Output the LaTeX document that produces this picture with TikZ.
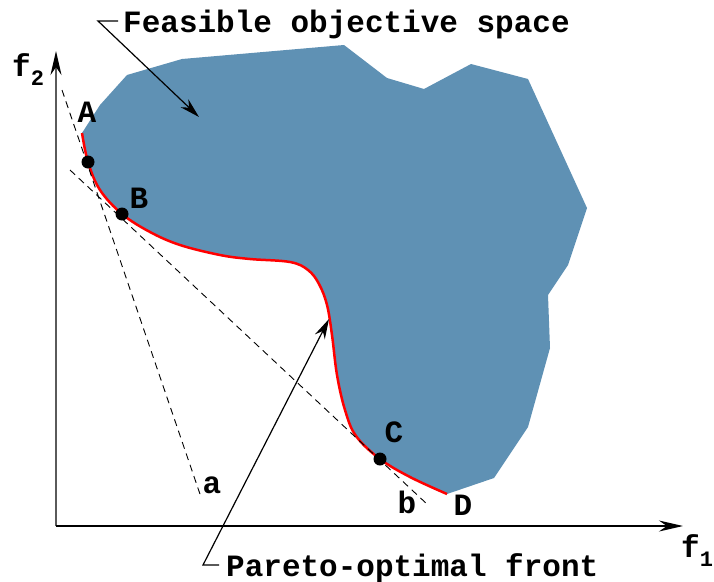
\documentclass[tikz,border=0pt]{standalone}
\usepackage{fontspec}
\setmonofont{Liberation Mono}
\usetikzlibrary{arrows.meta}
\definecolor{feas}{RGB}{95,145,180}
\definecolor{axgray}{RGB}{90,90,90}
\begin{document}
\begin{tikzpicture}[x=1pt,y=-1pt,
  lab/.style={font=\fontsize{31}{31}\selectfont\ttfamily\bfseries, inner sep=0pt},
  dotnode/.style={circle,fill=black,minimum size=13pt,inner sep=0pt},
  dsh/.style={dash pattern=on 7pt off 5pt, line width=0.9pt},
  arr/.style={-{Stealth[length=20pt,width=11pt]}, line width=1.2pt},
  axarr/.style={-{Stealth[length=24pt,width=11pt,color=black]}, line width=2pt}]
\useasboundingbox (0,0) rectangle (714,581);
% feasible region
\fill[feas] plot[smooth, tension=0.6] coordinates {(82,133) (88,162) (100,190) (122,214) (150,232) (180,245) (220,255) (250,259) (290,262) (308,270) (319,284) (327,305) (332,335) (337,375) (345,410) (356,436) (380,459) (410,477) (447,494)} -- (494,478) -- (528,427) -- (550,348) -- (548,295) -- (568,265) -- (587,208) -- (528,79) -- (471,64) -- (424,89) -- (387,78) -- (344,45) -- (182,59) -- (127,75) -- (100,105) -- cycle;
% Pareto front
\draw[red, line width=2.5pt] plot[smooth, tension=0.6] coordinates {(82,133) (88,162) (100,190) (122,214) (150,232) (180,245) (220,255) (250,259) (290,262) (308,270) (319,284) (327,305) (332,335) (337,375) (345,410) (356,436) (380,459) (410,477) (447,494)};
% axes
\coordinate (O) at (56,526);
\coordinate (ytop) at (56,51);
\coordinate (xend) at (683,526);
\draw[axarr, axgray] (O) -- (ytop);
\draw[axarr, black, line width=1.6pt] (O) -- (xend);
\node[lab, anchor=base west] (f2) at (12,76) {f\raisebox{-0.3em}{\fontsize{22}{22}\selectfont 2}};
\node[lab, anchor=base west] (f1) at (681,557) {f\raisebox{-0.3em}{\fontsize{22}{22}\selectfont 1}};
% dashed lines
\coordinate (a1) at (62,90);
\coordinate (a2) at (201,497);
\coordinate (b1) at (70,170);
\coordinate (b2) at (428,505);
\draw[dsh] (a1) -- (a2);
\draw[dsh] (b1) -- (b2);
% points
\node[dotnode] (dA) at (88,162) {};
\node[dotnode] (dB) at (122,214) {};
\node[dotnode] (dC) at (380,459) {};
% labels
\node[lab, anchor=base] (A) at (87,122) {A};
\node[lab, anchor=base] (B) at (139,208) {B};
\node[lab, anchor=base] (C) at (394,442) {C};
\node[lab, anchor=base] (D) at (463,515) {D};
\node[lab, anchor=base] (la) at (212,493) {a};
\node[lab, anchor=base] (lb) at (407,513) {b};
% annotations
\node[lab, anchor=base west] (Ftxt) at (123,32) {Feasible objective space};
\coordinate (Fs) at (118,21);
\coordinate (Fk) at (98,21);
\coordinate (Ft) at (199,117);
\draw[arr] (Fs) -- (Fk) -- (Ft);
\node[lab, anchor=base west] (Ptxt) at (226,576) {Pareto-optimal front};
\coordinate (Ps) at (219,565);
\coordinate (Pk) at (203,565);
\coordinate (Pt) at (329,319);
\draw[arr] (Ps) -- (Pk) -- (Pt);
\end{tikzpicture}
\end{document}
